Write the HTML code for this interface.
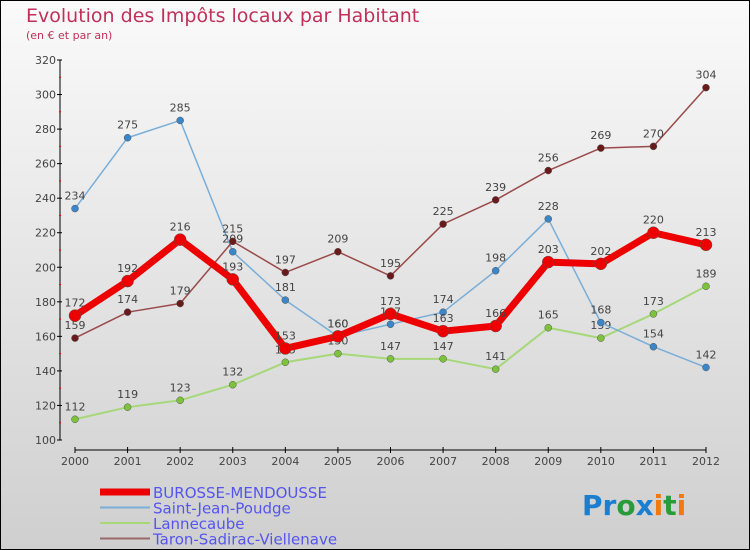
<!DOCTYPE html>
<html><head><meta charset="utf-8"><style>
body{margin:0;}
#c{width:750px;height:550px;position:relative;overflow:hidden;font-family:"DejaVu Sans","Liberation Sans",sans-serif;}
</style></head><body>
<div id="c">
<svg id="s" width="750" height="550" xmlns="http://www.w3.org/2000/svg">
<defs><linearGradient id="bg" x1="0" y1="0" x2="0" y2="1"><stop offset="0" stop-color="#fafafa"/><stop offset="1" stop-color="#cfcfcf"/></linearGradient></defs>
<rect x="0.5" y="0.5" width="749" height="549" fill="url(#bg)" stroke="#000"/>
<text x="26" y="22" font-size="19" fill="#c0305a">Evolution des Impôts locaux par Habitant</text>
<text x="26" y="39" font-size="11" fill="#c0305a">(en € et par an)</text>
<g id="axes"></g>
<g id="series"></g>
<g id="legend"></g>
<text x="582" y="515" font-size="28" font-weight="bold"><tspan fill="#1a7fd0">Pr</tspan><tspan fill="#2a9a3a">o</tspan><tspan fill="#1a7fd0">x</tspan><tspan fill="#f07a10">i</tspan><tspan fill="#2a9a3a">t</tspan><tspan fill="#f07a10">i</tspan></text>
</svg>
</div>
<script>
const years=["2000","2001","2002","2003","2004","2005","2006","2007","2008","2009","2010","2011","2012"];
const yTicks=[100,120,140,160,180,200,220,240,260,280,300,320];
const burosse=[172,192,216,193,153,160,173,163,166,203,202,220,213];
const saintJean=[234,275,285,209,181,160,167,174,198,228,168,154,142];
const lannecaube=[112,119,123,132,145,150,147,147,141,165,159,173,189];
const taron=[159,174,179,215,197,209,195,225,239,256,269,270,304];
const NS="http://www.w3.org/2000/svg";
const x0=75,x1=706,yMin=100,yMax=320,py0=440,py1=60;
const X=i=>x0+(x1-x0)*i/(years.length-1);
const Y=v=>py0-(v-yMin)*(py0-py1)/(yMax-yMin);
function mk(t,a,p){const e=document.createElementNS(NS,t);for(const k in a)e.setAttribute(k,a[k]);p.appendChild(e);return e;}
const ax=document.getElementById('axes');
let e=mk('line',{x1:60,y1:60,x2:60,y2:440,stroke:'#000'},ax);


e=mk('line',{x1:75,y1:450,x2:706,y2:450,stroke:'#000'},ax);


yTicks.forEach((v,i)=>{
 mk('line',{x1:57,y1:Y(v),x2:62,y2:Y(v),stroke:'#000'},ax);
 if(i<yTicks.length-1)mk('line',{x1:59,y1:Y(v+10),x2:61,y2:Y(v+10),stroke:'#e00'},ax);
 const t=mk('text',{x:56,y:Y(v)+4,'font-size':11,fill:'#444','text-anchor':'end'},ax);
 t.textContent=v;
 
 
});
years.forEach((y,i)=>{
 mk('line',{x1:X(i),y1:447,x2:X(i),y2:453,stroke:'#000'},ax);
 const t=mk('text',{x:X(i),y:465,'font-size':11,fill:'#444','text-anchor':'middle'},ax);
 t.textContent=y;
 
 
});
const series=[
 {name:'lannecaube',data:lannecaube,color:'#a6d87a',dot:'#7cc23a',w:2,r:3.5},
 {name:'saint-jean-poudge',data:saintJean,color:'#7aaed8',dot:'#3a86c8',w:1.5,r:3.5},
 {name:'taron-sadirac-viellenave',data:taron,color:'#9a4a4a',dot:'#6a1a1a',w:1.5,r:3.5},
 {name:'burosse-mendousse',data:burosse,color:'#ee0000',dot:'#ee0000',w:7,r:6}
];
const sg=document.getElementById('series');
series.forEach(s=>{
 const g=mk('g',{},sg);
 
 
 const p=mk('polyline',{points:s.data.map((v,i)=>X(i)+','+Y(v)).join(' '),fill:'none',stroke:s.color,'stroke-width':s.w,'stroke-linejoin':'round'},g);
 
 
 s.data.forEach((v,i)=>{
  const c=mk('circle',{cx:X(i),cy:Y(v),r:s.r,fill:s.dot,stroke:'#555','stroke-width':0.5},g);
  
  
  const t=mk('text',{x:X(i),y:Y(v)-9,'font-size':11,fill:'#444','text-anchor':'middle'},g);
  t.textContent=v;
  
  
 });
});
const lg=document.getElementById('legend');
const leg=[['BUROSSE-MENDOUSSE','#ee0000',7],['Saint-Jean-Poudge','#7aaed8',2],['Lannecaube','#a6d87a',2],['Taron-Sadirac-Viellenave','#9a6a6a',2]];
leg.forEach((l,i)=>{
 const y=492+i*15.5;
 const ln=mk('line',{x1:100,y1:y,x2:150,y2:y,stroke:l[1],'stroke-width':l[2]},lg);
 
 
 const t=mk('text',{x:153,y:y+6,'font-size':15,fill:'#5555ee'},lg);
 t.textContent=l[0];
 
 
});
</script>
</body></html>
